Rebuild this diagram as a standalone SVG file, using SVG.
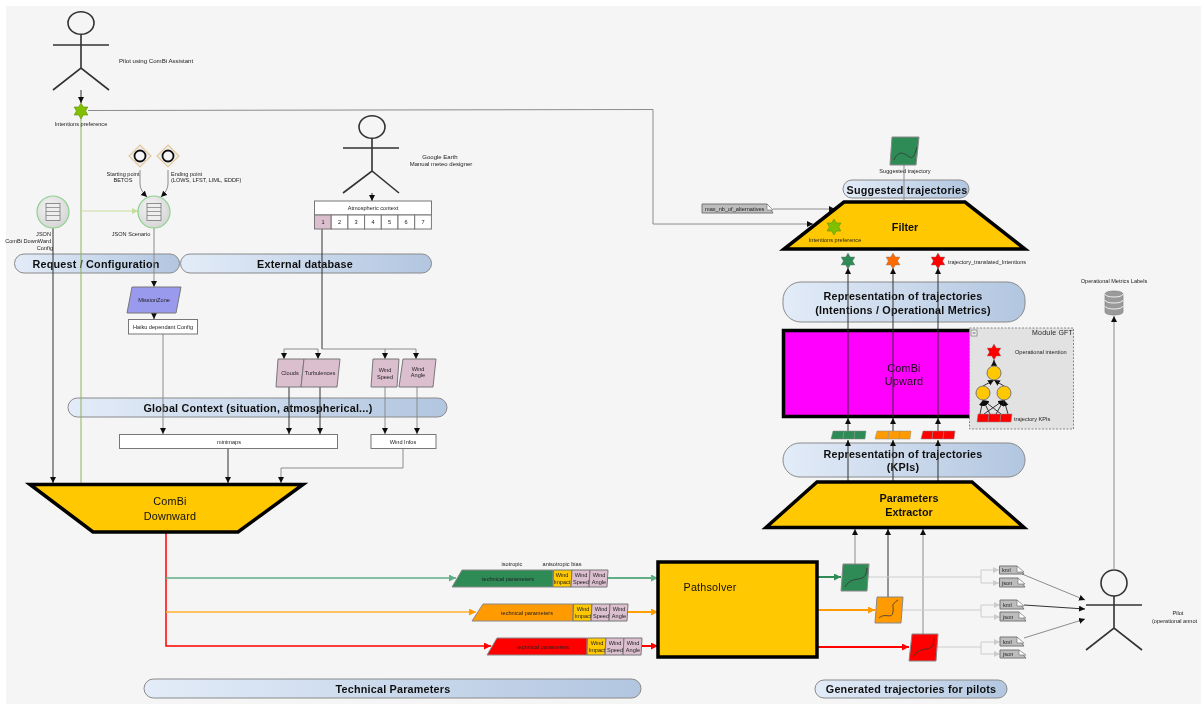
<svg xmlns="http://www.w3.org/2000/svg" width="1201" height="704" viewBox="0 0 1201 704">
<style>
text{font-family:"Liberation Sans",Arial,sans-serif;fill:#222;font-size:5.6px;text-anchor:middle}
.s{text-anchor:start}.e{text-anchor:end}
.pt{font-size:10.8px;font-weight:bold;fill:#111;letter-spacing:.2px}
.big{font-size:10.8px;fill:#111;letter-spacing:.2px}
.bb{font-size:10.8px;font-weight:bold;fill:#111}
.pill{fill:url(#pg);stroke:#8a8a8a;stroke-width:1}
.actor{fill:none;stroke:#333;stroke-width:1.6}
.trap{fill:#ffc800;stroke:#000;stroke-width:3.5;stroke-linejoin:miter}
.box{fill:#fff;stroke:#777;stroke-width:1}
.ctx{fill:#dcbfcf;stroke:#777;stroke-width:1}
.note{fill:#bdbdbd;stroke:#777;stroke-width:1}
.fold{fill:#fff;stroke:#777;stroke-width:.7}
.l{fill:none;stroke:#8c8c8c;stroke-width:1;marker-end:url(#a)}
.n{fill:none;stroke:#8c8c8c;stroke-width:1}
.d{fill:none;stroke:#333;stroke-width:1;marker-end:url(#a)}
.k{fill:none;stroke:#333;stroke-width:1}
.f{fill:none;stroke:#ccc;stroke-width:1;marker-end:url(#la)}
.fn{fill:none;stroke:#ccc;stroke-width:1}
.crv{fill:none;stroke:#333;stroke-width:.8}
.y{fill:#ffc800;stroke:#777;stroke-width:1}
</style>
<defs>
<filter id="soft" x="0" y="0" width="100%" height="100%" filterUnits="userSpaceOnUse"><feGaussianBlur stdDeviation=".35"/></filter>
<linearGradient id="pg" x1="0" x2="1" y1="0" y2="0"><stop offset="0" stop-color="#e3ecf8"/><stop offset="1" stop-color="#b2c6e0"/></linearGradient>
<radialGradient id="cg" cx=".4" cy=".35" r=".8"><stop offset="0" stop-color="#f4f4f4"/><stop offset="1" stop-color="#cfcfcf"/></radialGradient>
<marker id="a" markerUnits="userSpaceOnUse" markerWidth="8" markerHeight="8" refX="6" refY="3" orient="auto"><path d="M0 0L6 3L0 6Z" fill="#111"/></marker>
<marker id="la" markerUnits="userSpaceOnUse" markerWidth="8" markerHeight="8" refX="6" refY="3" orient="auto"><path d="M0 0L6 3L0 6Z" fill="#ccc"/></marker>
<marker id="lg" markerUnits="userSpaceOnUse" markerWidth="8" markerHeight="8" refX="6" refY="3" orient="auto"><path d="M0 0L6 3L0 6Z" fill="#c5dd9a"/></marker>
<marker id="gm" markerUnits="userSpaceOnUse" markerWidth="9" markerHeight="9" refX="7" refY="3.5" orient="auto"><path d="M0 0L7 3.5L0 7Z" fill="#2e8b57"/></marker>
<marker id="gl" markerUnits="userSpaceOnUse" markerWidth="9" markerHeight="9" refX="7" refY="3.5" orient="auto"><path d="M0 0L7 3.5L0 7Z" fill="#5fae86"/></marker>
<marker id="om" markerUnits="userSpaceOnUse" markerWidth="9" markerHeight="9" refX="7" refY="3.5" orient="auto"><path d="M0 0L7 3.5L0 7Z" fill="#ff9a00"/></marker>
<marker id="rm" markerUnits="userSpaceOnUse" markerWidth="9" markerHeight="9" refX="7" refY="3.5" orient="auto"><path d="M0 0L7 3.5L0 7Z" fill="#ff0000"/></marker>
<polygon id="star" points="0,-8 2.3,-4 6.9,-4 4.6,0 6.9,4 2.3,4 0,8 -2.3,4 -6.9,4 -4.6,0 -6.9,-4 -2.3,-4"/>
<g id="doc"><circle r="16" fill="url(#cg)" stroke="#8fd08f" stroke-width="1.2"/><rect x="-7" y="-8.500" width="14" height="17" fill="#eee" stroke="#777" stroke-width=".8"/><path d="M-7-4.500H7M-7-.5H7M-7 3.500H7" stroke="#777" stroke-width=".7"/></g>
<g id="dia"><path d="M0-11L11 0L0 11L-11 0Z" fill="#eee" stroke="#e3c89b" stroke-width="1.200"/><circle r="5.500" fill="#f5f5f5" stroke="#111" stroke-width="1.800"/></g>
</defs>
<rect width="1201" height="704" fill="#fff"/>
<g filter="url(#soft)">
<rect x="6" y="6" width="1195" height="698" fill="#f5f5f5"/>

<g id="pills">
<rect class="pill" x="14.500" y="254" width="165" height="19" rx="9.500"/><text class="pt" x="96" y="268">Request / Configuration</text>
<rect class="pill" x="180.500" y="254" width="251" height="19" rx="9.500"/><text class="pt" x="305" y="268">External database</text>
<rect class="pill" x="68" y="398" width="379" height="19" rx="9.500"/><text class="pt" x="258" y="412">Global Context (situation, atmospherical...)</text>
<rect class="pill" x="144" y="679" width="497" height="19" rx="9.500"/><text class="pt" x="393" y="693">Technical Parameters</text>
<rect class="pill" x="815" y="680" width="192" height="18" rx="9"/><text class="pt" x="911" y="693">Generated trajectories for pilots</text>
<rect class="pill" x="843" y="180" width="126" height="18" rx="9"/><text class="pt" x="907" y="194">Suggested trajectories</text>
<rect class="pill" x="783" y="282" width="242" height="40" rx="18"/><text class="pt" x="903" y="300">Representation of trajectories</text><text class="pt" x="903" y="314">(Intentions / Operational Metrics)</text>
<rect class="pill" x="783" y="443" width="242" height="34" rx="17"/><text class="pt" x="903" y="458">Representation of trajectories</text><text class="pt" x="903" y="471">(KPIs)</text>
</g>

<g id="pilot-assistant"><circle class="actor" cx="81" cy="23" r="13" transform="matrix(1 0 0 .87 0 3)"/><path class="actor" d="M81 35V68M53 45H109M53 90L81 68L109 90"/><text class="s" style="font-size:6.100px" x="119" y="63">Pilot using ComBi Assistant</text></g>
<g id="meteo-designer"><circle class="actor" cx="372" cy="127" r="13" transform="matrix(1 0 0 .87 0 16.500)"/><path class="actor" d="M372 138V171M343 148H399M343 193L372 171L399 193"/><text style="font-size:6px" x="440" y="159">Google Earth</text><text style="font-size:6px" x="441" y="166">Manual meteo designer</text></g>
<g id="pilot-operational"><circle class="actor" cx="1114" cy="583" r="13"/><path class="actor" d="M1114 596V628M1086 605H1142M1086 650L1114 628L1142 650"/><text x="1178" y="615">Pilot</text><text class="s" x="1152" y="623">(operational annot</text></g>

<g id="connectors">
<path class="d" d="M81 90V103"/>
<path d="M81 118V483" fill="none" stroke="#8fb35a" stroke-width="1"/>
<path class="n" d="M88 110.500L653 109.500V224H813" style="marker-end:url(#a)"/>
<path d="M81 211H138" fill="none" stroke="#c5dd9a" stroke-width="1" marker-end="url(#lg)"/>
<path class="l" d="M140 170V184Q140 190 147 197"/>
<path class="l" d="M168 170V184Q168 190 161 197"/>
<path class="d" d="M53 228V483"/>
<path class="l" d="M154 228V287"/>
<path class="d" d="M154 313V319"/>
<path class="l" d="M163 334V434"/>
<path class="d" d="M372 193V201"/>
<path class="k" d="M322 229V349"/>
<path class="l" d="M318 349H284V359"/><path class="l" d="M318 349V359"/><path class="l" d="M322 349H385V359"/><path class="l" d="M385 349H416V359"/>
<path class="d" d="M289 387V434"/><path class="d" d="M320 387V434"/><path class="l" d="M385 387V434"/><path class="l" d="M417 387V434"/>
<path class="k" d="M228 448V483" style="marker-end:url(#a)"/>
<path class="n" d="M403 448V468H281V483" style="marker-end:url(#a)"/>
<path d="M166 532V646H491" fill="none" stroke="#ff0000" stroke-width="1.500" marker-end="url(#rm)"/>
<path d="M166 578H456" fill="none" stroke="#5fae86" stroke-width="1.500" marker-end="url(#gl)"/>
<path d="M166 612H476" fill="none" stroke="#ffb030" stroke-width="1.500" marker-end="url(#om)"/>
<path d="M608 578H658" fill="none" stroke="#5fae86" stroke-width="2" marker-end="url(#gl)"/>
<path d="M628 612H658" fill="none" stroke="#ffa000" stroke-width="2" marker-end="url(#om)"/>
<path d="M642 646H658" fill="none" stroke="#ff0000" stroke-width="2" marker-end="url(#rm)"/>
<path d="M817 577H841" fill="none" stroke="#2e8b57" stroke-width="2" marker-end="url(#gm)"/>
<path d="M817 610H875" fill="none" stroke="#ff9a00" stroke-width="2" marker-end="url(#om)"/>
<path d="M817 647H909" fill="none" stroke="#ff0000" stroke-width="2" marker-end="url(#rm)"/>
<path class="l" d="M855 564V529"/><path class="d" d="M888 597V529"/><path class="l" d="M923 634V529"/>
<path class="fn" d="M868 577H981"/><path class="f" d="M981 577V570H999"/><path class="f" d="M981 577V583H999"/>
<path class="fn" d="M902 610H981"/><path class="f" d="M981 610V605H1000"/><path class="f" d="M981 610V617H1000"/>
<path class="fn" d="M937 647H981"/><path class="f" d="M981 647V642H1000"/><path class="f" d="M981 647V654H1000"/>
<path class="l" d="M1022 574L1085 600"/><path class="d" d="M1024 605L1085 609"/><path class="l" d="M1024 638L1085 619"/>
<path class="l" d="M1114 570V316"/>
<path class="d" d="M848 481V440"/><path class="d" d="M893 481V440"/><path class="d" d="M938 481V440"/>
<path class="d" d="M848 431V418"/><path class="d" d="M893 431V418"/><path class="d" d="M938 431V418"/>
<path class="n" d="M904 202V165"/>
<path class="n" d="M773 209H835" style="marker-end:url(#a)"/>
</g>

<g id="json-config"><use href="#doc" x="53" y="212"/><text class="e" x="51" y="236">JSON</text><text class="e" x="51" y="243">ComBi DownWard</text><text class="e" x="53" y="250">Config</text></g>
<g id="json-scenario"><use href="#doc" x="154" y="212"/><text x="131" y="236">JSON Scenario</text></g>
<g id="start-point"><use href="#dia" x="140" y="156"/><text x="123" y="176">Starting point</text><text x="123" y="182">BETOS</text></g>
<g id="end-point"><use href="#dia" x="168" y="156"/><text class="s" x="171" y="176">Ending point</text><text class="s" x="171" y="182">(LOWS, LFST, LIML, EDDF)</text></g>
<g id="intent-star"><use href="#star" x="81" y="111" fill="#80c000" stroke="#5f8f00" stroke-width=".6"/><text x="81" y="126">Intentions preference</text></g>

<g id="atmospheric-context">
<rect class="box" x="314.500" y="201" width="117" height="14"/><text x="373" y="210">Atmospheric context</text>
<rect class="ctx" x="314.500" y="215" width="16.700" height="14"/><rect class="box" x="331.200" y="215" width="16.700" height="14"/><rect class="box" x="347.900" y="215" width="16.700" height="14"/><rect class="box" x="364.600" y="215" width="16.700" height="14"/><rect class="box" x="381.300" y="215" width="16.700" height="14"/><rect class="box" x="398" y="215" width="16.700" height="14"/><rect class="box" x="414.700" y="215" width="16.700" height="14"/>
<text x="323" y="224">1</text><text x="339.500" y="224">2</text><text x="356" y="224">3</text><text x="373" y="224">4</text><text x="389.500" y="224">5</text><text x="406" y="224">6</text><text x="423" y="224">7</text>
</g>
<g id="mission-zone"><polygon points="132,287 181,287 176,313 127,313" fill="#9999ee" stroke="#777"/><text x="154" y="302">MissionZone</text></g>
<g id="haiku"><rect class="box" x="128.500" y="319.500" width="69" height="14.500"/><text x="163" y="329">Haiku dependant Config</text></g>
<g id="clouds"><polygon class="ctx" points="278,359 304,359 301,387 276,387"/><text x="290" y="375">Clouds</text></g>
<g id="turbulences"><polygon class="ctx" points="304,359 340,359 337,387 301,387"/><text x="320" y="375">Turbulences</text></g>
<g id="wind-speed"><polygon class="ctx" points="373,359 399,359 397,387 371,387"/><text x="385" y="372">Wind</text><text x="385" y="379">Speed</text></g>
<g id="wind-angle"><polygon class="ctx" points="403,359 436,359 433,387 399,387"/><text x="418" y="371">Wind</text><text x="418" y="377">Angle</text></g>
<g id="minimaps"><rect class="box" x="119.500" y="434.500" width="218" height="14"/><text x="229" y="444">minimaps</text></g>
<g id="wind-infos"><rect class="box" x="371" y="434.500" width="65" height="14"/><text x="403" y="444">Wind Infos</text></g>
<g id="combi-downward"><polygon class="trap" points="30,484.500 303,484.500 238,532 93,532"/><text class="big" x="170" y="505">ComBi</text><text class="big" x="170" y="520">Downward</text></g>

<g id="params-green"><text x="512" y="566">isotropic</text><text x="562" y="566">anisotropic bias</text>
<polygon points="462,570 553,570 553,587 452,587" fill="#2e8b57" stroke="#888"/><text x="508" y="581">technical parameters</text>
<polygon class="y" points="553.500,570 572,570 571,587 553,587"/><text x="562" y="577">Wind</text><text x="562" y="584">Impact</text>
<polygon class="ctx" points="572,570 590,570 589,587 571,587"/><text x="581" y="577">Wind</text><text x="581" y="584">Speed</text>
<polygon class="ctx" points="590,570 608,570 607,587 589,587"/><text x="599" y="577">Wind</text><text x="599" y="584">Angle</text></g>
<g id="params-orange"><polygon points="483,604 573,604 573,621 472,621" fill="#ff9a00" stroke="#888"/><text x="527" y="615">technical parameters</text>
<polygon class="y" points="573.500,604 592,604 591,621 573,621"/><text x="583" y="611">Wind</text><text x="583" y="618">Impact</text>
<polygon class="ctx" points="592,604 610,604 609,621 591,621"/><text x="601" y="611">Wind</text><text x="601" y="618">Speed</text>
<polygon class="ctx" points="610,604 628,604 627,621 609,621"/><text x="619" y="611">Wind</text><text x="619" y="618">Angle</text></g>
<g id="params-red"><polygon points="497,638 587,638 587,655 487,655" fill="#ff0000" stroke="#888"/><text x="543" y="649">technical parameters</text>
<polygon class="y" points="587.500,638 606,638 605,655 587,655"/><text x="597" y="645">Wind</text><text x="597" y="652">Impact</text>
<polygon class="ctx" points="606,638 624,638 623,655 605,655"/><text x="615" y="645">Wind</text><text x="615" y="652">Speed</text>
<polygon class="ctx" points="624,638 642,638 641,655 623,655"/><text x="633" y="645">Wind</text><text x="633" y="652">Angle</text></g>

<g id="pathsolver"><rect class="trap" x="658" y="562" width="159" height="95"/><text class="big" x="710" y="591">Pathsolver</text></g>

<g id="traj-green"><polygon points="843,564 869,564 867,591 841,591" fill="#2e8b57" stroke="#888"/><path class="crv" d="M845 587C850 578 858 580 862 578S866 574 867 568"/></g>
<g id="traj-orange"><polygon points="877,597 903,597 901,623 875,623" fill="#ff9a00" stroke="#888"/><path class="crv" d="M879 618C885 612 892 620 893 612S890 606 898 600"/></g>
<g id="traj-red"><polygon points="912,634 938,634 936,661 909,661" fill="#ff0000" stroke="#888"/><path class="crv" d="M913 657C918 648 926 650 930 648S933 644 934 638"/></g>

<g id="files">
<polygon class="note" points="999.500,566 1017,566 1024,574 999.500,574"/><path class="fold" d="M1017 566V572H1024Z"/><text class="s" x="1002" y="572">kml</text>
<polygon class="note" points="999.500,578 1018,578 1025,587 999.500,587"/><path class="fold" d="M1018 578V584H1025Z"/><text class="s" x="1002" y="585">json</text>
<polygon class="note" points="1000,600 1017,600 1024,609 1000,609"/><path class="fold" d="M1017 600V606H1024Z"/><text class="s" x="1003" y="607">kml</text>
<polygon class="note" points="1000,612 1019,612 1026,621 1000,621"/><path class="fold" d="M1019 612V618H1026Z"/><text class="s" x="1003" y="619">json</text>
<polygon class="note" points="1000,637 1017,637 1024,646 1000,646"/><path class="fold" d="M1017 637V643H1024Z"/><text class="s" x="1003" y="644">kml</text>
<polygon class="note" points="1000,650 1019,650 1026,658 1000,658"/><path class="fold" d="M1019 650V655H1026Z"/><text class="s" x="1003" y="656">json</text>
</g>

<g id="parameters-extractor"><polygon class="trap" points="817,482 972,482 1024,527.500 766,527.500"/><text class="bb" x="909" y="502">Parameters</text><text class="bb" x="909" y="516">Extractor</text></g>

<g id="kpi-bars">
<polygon points="833,431 844,431 843,439 831,439" fill="#2e8b57" stroke="#888" stroke-width=".5"/><polygon points="844,431 855,431 854,439 843,439" fill="#2e8b57" stroke="#888" stroke-width=".5"/><polygon points="855,431 866,431 865,439 854,439" fill="#2e8b57" stroke="#888" stroke-width=".5"/>
<polygon points="877,431 889,431 888,439 875,439" fill="#ff9a00" stroke="#888" stroke-width=".5"/><polygon points="889,431 900,431 899,439 888,439" fill="#ff9a00" stroke="#888" stroke-width=".5"/><polygon points="900,431 911,431 910,439 899,439" fill="#ff9a00" stroke="#888" stroke-width=".5"/>
<polygon points="923,431 933,431 932,439 921,439" fill="#ff0000" stroke="#888" stroke-width=".5"/><polygon points="933,431 944,431 943,439 932,439" fill="#ff0000" stroke="#888" stroke-width=".5"/><polygon points="944,431 955,431 954,439 943,439" fill="#ff0000" stroke="#888" stroke-width=".5"/>
</g>

<g id="combi-upward"><rect x="783.500" y="330.500" width="190" height="86" fill="#ff00ff" stroke="#000" stroke-width="3.500"/><text class="big" x="904" y="372">ComBi</text><text class="big" x="904" y="385">Upward</text></g>
<g id="upward-lines"><path class="k" d="M848 417V268" marker-end="url(#a)"/><path class="k" d="M893 417V268" marker-end="url(#a)"/><path class="k" d="M938 417V268" marker-end="url(#a)"/></g>

<g id="module-gft"><rect x="969.500" y="328" width="104" height="101" fill="#e2e2e2" stroke="#888" stroke-dasharray="2 1.500"/>
<rect x="971" y="330" width="6" height="6" fill="#eee" stroke="#666" stroke-width=".6"/><path d="M972.500 333H975.500" stroke="#333" stroke-width=".7"/><text class="e" style="font-size:7px;letter-spacing:.2px" x="1073" y="335">Module GFT</text>
<path class="d" d="M994 366V360"/><path class="k" d="M983 386L994 380" marker-end="url(#a)"/><path class="k" d="M1004 386L994 380" marker-end="url(#a)"/>
<path class="d" d="M980 414L983 400"/><path class="d" d="M990 414L983 400"/><path class="d" d="M1001 414L983 400"/><path class="d" d="M984 414L1004 400"/><path class="d" d="M996 414L1004 400"/><path class="d" d="M1008 414L1004 400"/>
<use href="#star" x="994" y="352" fill="#ff0000" stroke="#888" stroke-width=".4"/>
<circle cx="994" cy="373" r="7" class="y"/><circle cx="983" cy="393" r="7" class="y"/><circle cx="1004" cy="393" r="7" class="y"/>
<polygon points="978,414 989,414 988,422 977,422" fill="#ff0000" stroke="#888" stroke-width=".5"/><polygon points="989,414 1001,414 1000,422 988,422" fill="#ff0000" stroke="#888" stroke-width=".5"/><polygon points="1001,414 1012,414 1011,422 1000,422" fill="#ff0000" stroke="#888" stroke-width=".5"/>
<text class="s" x="1015" y="354">Operational intention</text><text class="s" x="1014" y="421">trajectory KPIs</text></g>

<g id="filter"><polygon class="trap" points="844,202 965,202 1025,249 784,249"/><use href="#star" x="834" y="227" fill="#80c000" stroke="#5f8f00" stroke-width=".6"/><text x="835" y="242">Intentions preference</text><text class="bb" x="905" y="231">Filter</text></g>
<g id="suggested-trajectory"><polygon points="892,137 919,137 916,165 890,165" fill="#2e8b57" stroke="#888"/><path class="crv" d="M894 160C898 150 904 153 908 156S914 158 917 147"/><text x="905" y="173">Suggested trajectory</text></g>
<g id="max-alternatives"><polygon class="note" points="702,204 767,204 773,213 702,213"/><path class="fold" d="M767 204V210H773Z"/><text class="s" x="705" y="211">max_nb_of_alternatives</text></g>

<g id="translated-stars"><use href="#star" x="848" y="261" fill="#2e8b57" stroke="#777" stroke-width=".4"/><use href="#star" x="893" y="261" fill="#ff6a00" stroke="#777" stroke-width=".4"/><use href="#star" x="938" y="261" fill="#ff0000" stroke="#777" stroke-width=".4"/><text class="s" x="948" y="264">trajectory_translated_Intentions</text></g>

<g id="metrics-db"><path d="M1105 294C1105 290 1123 290 1123 294V312C1123 316 1105 316 1105 312Z" fill="#9a9a9a" stroke="#777" stroke-width=".6"/><path d="M1105 294C1105 298 1123 298 1123 294M1105 300C1105 304 1123 304 1123 300M1105 306C1105 310 1123 310 1123 306" fill="none" stroke="#eee" stroke-width="1"/><text x="1114" y="283">Operational Metrics Labels</text></g>
</g>
</svg>
